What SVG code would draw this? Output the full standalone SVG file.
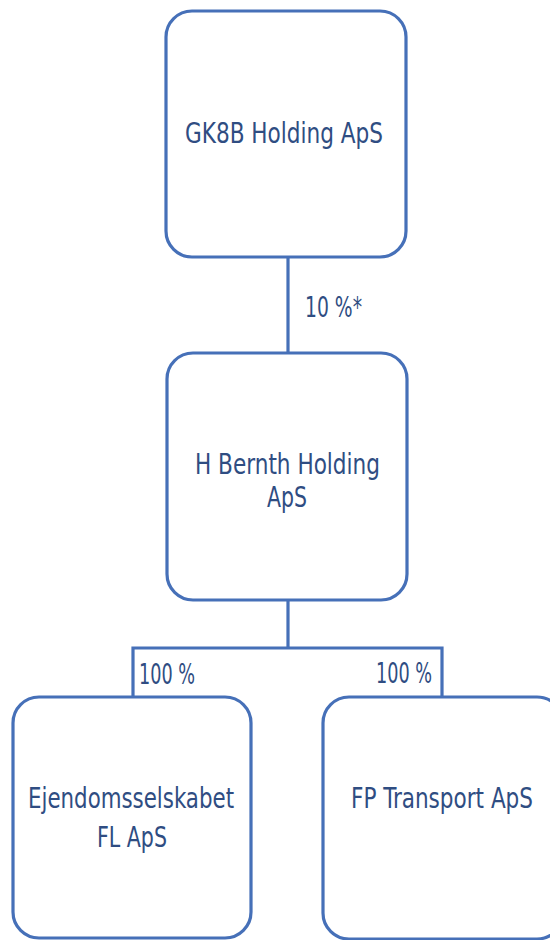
<svg xmlns="http://www.w3.org/2000/svg" width="550" height="940" viewBox="0 0 550 940">
<style>
.box{fill:#ffffff;stroke:#4670b8;stroke-width:3.2}
.con{fill:none;stroke:#4670b8;stroke-width:3.2}
.t{font-family:"DejaVu Sans Condensed","DejaVu Sans",sans-serif;font-size:29px;fill:#2f4d82}
.l{font-family:"DejaVu Sans Condensed","DejaVu Sans",sans-serif;font-size:28px;fill:#2f4d82}
</style>
<rect width="550" height="940" fill="#ffffff"/>
<g id="connectors">
<path class="con" d="M288 257V353"/>
<path class="con" d="M288 600V648M133 697V648H442V697"/>
</g>
<g id="gk8b">
<rect class="box" x="166" y="11" width="240" height="246" rx="26"/>
<text class="t" x="185" y="143" textLength="198" lengthAdjust="spacingAndGlyphs">GK8B Holding ApS</text>
</g>
<g id="label10">
<text class="l" x="305" y="317" textLength="57" lengthAdjust="spacingAndGlyphs">10 %*</text>
</g>
<g id="hbernth">
<rect class="box" x="167" y="353" width="240" height="247" rx="26"/>
<text class="t" x="195" y="474" textLength="185" lengthAdjust="spacingAndGlyphs">H Bernth Holding</text>
<text class="t" x="267" y="507" textLength="40" lengthAdjust="spacingAndGlyphs">ApS</text>
</g>
<g id="label100a">
<text class="l" x="139" y="684" textLength="56" lengthAdjust="spacingAndGlyphs">100 %</text>
</g>
<g id="label100b">
<text class="l" x="376" y="683" textLength="56" lengthAdjust="spacingAndGlyphs">100 %</text>
</g>
<g id="ejendom">
<rect class="box" x="13" y="697" width="238" height="241" rx="26"/>
<text class="t" x="28" y="808" textLength="206" lengthAdjust="spacingAndGlyphs">Ejendomsselskabet</text>
<text class="t" x="97" y="847" textLength="70" lengthAdjust="spacingAndGlyphs">FL ApS</text>
</g>
<g id="fptransport">
<rect class="box" x="323" y="697" width="240" height="242" rx="26"/>
<text class="t" x="351" y="808" textLength="182" lengthAdjust="spacingAndGlyphs">FP Transport ApS</text>
</g>
</svg>
